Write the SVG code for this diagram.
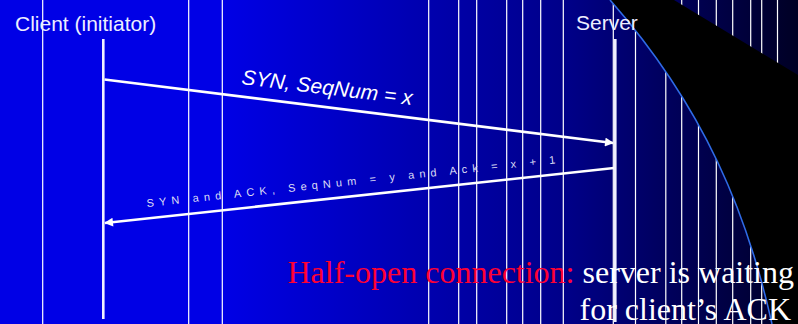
<svg xmlns="http://www.w3.org/2000/svg" width="798" height="324" viewBox="0 0 798 324">
  <defs>
    <linearGradient id="bg" gradientUnits="userSpaceOnUse" x1="222" y1="0" x2="798" y2="0">
      <stop offset="0" stop-color="#0000e6"/>
      <stop offset="0.6" stop-color="#000088"/>
      <stop offset="1" stop-color="#000024"/>
    </linearGradient>
    <marker id="ah" viewBox="0 0 10 10" refX="9" refY="5" markerWidth="4" markerHeight="3.4" orient="auto" markerUnits="strokeWidth">
      <path d="M0,0 L10,5 L0,10 Z" fill="#ffffff"/>
    </marker>
    <style>
      .stripe { stroke: #ffffff; stroke-width: 1.2; }
      .life { stroke: #f0f0ff; stroke-width: 2.6; fill: none; }
      .msg { stroke: #ffffff; stroke-width: 2.6; fill: none; marker-end: url(#ah); }
      .hdr { font-family: "Liberation Sans", Arial, sans-serif; font-size: 21px; fill: #eeeeff; }
      .lbl { font-family: "Liberation Sans", Arial, sans-serif; font-size: 21px; font-style: italic; fill: #ffffff; }
      .small { font-family: "Liberation Sans", Arial, sans-serif; font-size: 11px; fill: #dcdcf4; }
      .note { font-family: "Liberation Serif", "Times New Roman", serif; font-size: 32px; }
    </style>
  </defs>

  <!-- background -->
  <rect x="0" y="0" width="798" height="324" fill="#0000e6"/>
  <rect x="222" y="0" width="576" height="324" fill="url(#bg)"/>
  <g id="stripes">
    <line class="stripe" x1="42.7" y1="0" x2="42.7" y2="324"/>
    <line class="stripe" x1="188.7" y1="0" x2="188.7" y2="324"/>
    <line class="stripe" x1="222.3" y1="0" x2="222.3" y2="324"/>
    <line class="stripe" x1="428.7" y1="0" x2="428.7" y2="324"/>
    <line class="stripe" x1="458.7" y1="0" x2="458.7" y2="324"/>
    <line class="stripe" x1="476.7" y1="0" x2="476.7" y2="324"/>
    <line class="stripe" x1="506.7" y1="0" x2="506.7" y2="324"/>
    <line class="stripe" x1="522.7" y1="0" x2="522.7" y2="324"/>
    <line class="stripe" x1="540.7" y1="0" x2="540.7" y2="324"/>
    <line class="stripe" x1="563.3" y1="0" x2="563.3" y2="324"/>
    <line class="stripe" x1="613.3" y1="0" x2="613.3" y2="324"/>
    <line class="stripe" x1="635.5" y1="0" x2="635.5" y2="324"/>
    <line class="stripe" x1="665.8" y1="0" x2="665.8" y2="324"/>
    <line class="stripe" x1="681.7" y1="0" x2="681.7" y2="324"/>
    <line class="stripe" x1="698.5" y1="0" x2="698.5" y2="324"/>
    <line class="stripe" x1="716.3" y1="0" x2="716.3" y2="324"/>
    <line class="stripe" x1="732.7" y1="0" x2="732.7" y2="324"/>
    <line class="stripe" x1="750.7" y1="0" x2="750.7" y2="324"/>
    <line class="stripe" x1="761.7" y1="0" x2="761.7" y2="324"/>
    <line class="stripe" x1="777.5" y1="0" x2="777.5" y2="324"/>
  </g>
  <path d="M610,0 C705,108 748,216 772,324 L798,324 L798,75 L674,0 Z" fill="#000000"/>
  <path d="M610,0 C705,108 748,216 772,324" fill="none" stroke="#2f6be6" stroke-width="1.6"/>

  <g id="client">
    <text class="hdr" x="15" y="31">Client (initiator)</text>
    <line class="life" x1="103.3" y1="39" x2="103.3" y2="319"/>
  </g>

  <g id="server">
    <text class="hdr" x="576" y="30">Server</text>
    <line class="life" x1="615.3" y1="39" x2="615.3" y2="322"/>
  </g>

  <g id="connectors">
    <line class="msg" x1="104.5" y1="79.5" x2="613" y2="143"/>
    <text class="lbl" x="241" y="84" transform="rotate(7 241 84)" textLength="172" lengthAdjust="spacing">SYN, SeqNum = x</text>
    <line class="msg" x1="614" y1="168" x2="105" y2="223"/>
    <text class="small" x="147" y="207" transform="rotate(-6.1 147 207)" textLength="411" lengthAdjust="spacing">SYN and ACK, SeqNum = y and Ack = x + 1</text>
  </g>

  <g id="note">
    <text class="note" x="794" y="283" text-anchor="end"><tspan fill="#ff0033">Half-open connection:</tspan><tspan fill="#ffffff"> server is waiting</tspan></text>
    <text class="note" x="791" y="320" text-anchor="end" fill="#ffffff">for client’s ACK</text>
  </g>
</svg>
